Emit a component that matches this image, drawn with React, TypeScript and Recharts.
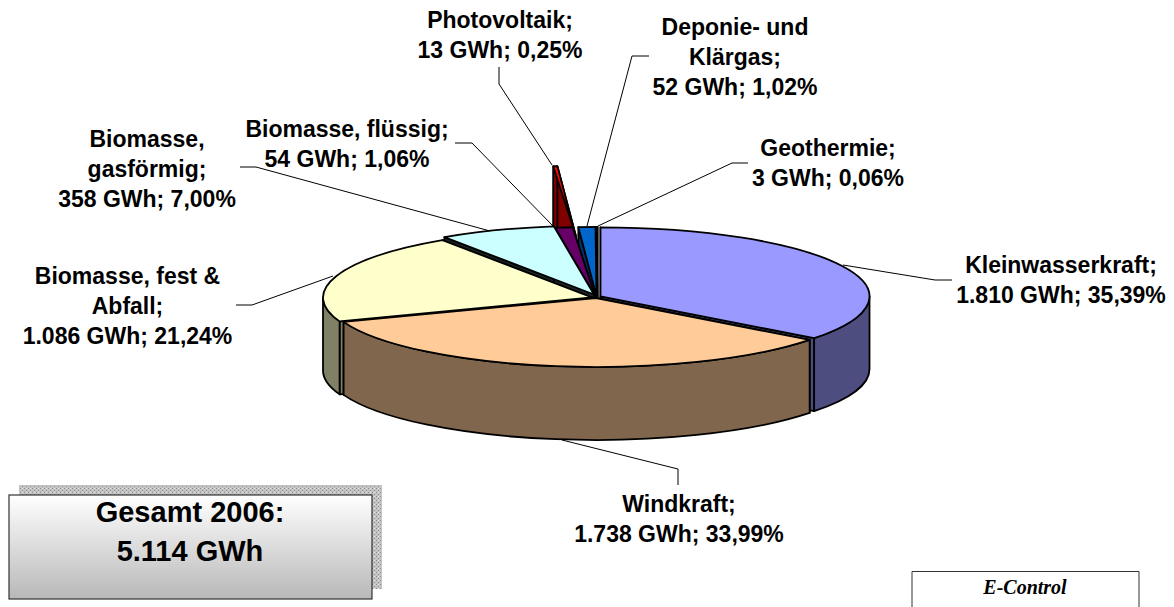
import React from 'react';
import { PieChart, Pie } from 'recharts';

const sources = [
  'Kleinwasserkraft',
  'Windkraft',
  'Biomasse, fest & Abfall',
  'Biomasse, gasförmig',
  'Biomasse, flüssig',
  'Photovoltaik',
  'Deponie- und Klärgas',
  'Geothermie',
];
const gwh = [1810, 1738, 1086, 358, 54, 13, 52, 3];
const labelLines = [
  ['Kleinwasserkraft;', '1.810 GWh; 35,39%'],
  ['Windkraft;', '1.738 GWh; 33,99%'],
  ['Biomasse, fest &', 'Abfall;', '1.086 GWh; 21,24%'],
  ['Biomasse,', 'gasförmig;', '358 GWh; 7,00%'],
  ['Biomasse, flüssig;', '54 GWh; 1,06%'],
  ['Photovoltaik;', '13 GWh; 0,25%'],
  ['Deponie- und', 'Klärgas;', '52 GWh; 1,02%'],
  ['Geothermie;', '3 GWh; 0,06%'],
];
const totalLines = ['Gesamt 2006:', '5.114 GWh'];
const sourceNote = 'E-Control';

const tableData = sources.map((name, i) => ({ name, gwh: gwh[i] }));

// styling per slice, same order as sources
const topColors = ['#9999FF', '#FFCC99', '#FFFFCC', '#CCFFFF', '#660066', '#FF0000', '#0066CC', '#CCCCFF'];
const sideColors = ['#4D4D80', '#7F664C', '#808066', '#1A2626', '#330033', '#800000', '#003366', '#666680'];
// how far each slice is pulled out of the pie, in px
const pullOut = [[3.5, -0.7], [-1, 1], [-5, 0.5], [-3, -2.5], [-2, -1], [-21.4, -62], [-0.5, -1], [0.5, -1]];

// painter's order, back to front
const drawOrder = [5, 7, 6, 4, 3, 0, 2, 1];

// callouts: leader line points, label centre x, first baseline
const callouts = [
  { line: [[952, 280], [935, 280], [843, 265]], x: 1061, y: 273 },
  { line: [[678, 485], [678, 469], [562, 440]], x: 679, y: 512 },
  { line: [[236, 305], [252, 305], [333, 276]], x: 127.5, y: 284 },
  { line: [[240, 167], [256, 167], [490, 231]], x: 147, y: 147 },
  { line: [[455, 143], [472, 143], [553, 226]], x: 347, y: 137 },
  { line: [[499, 67], [499, 84], [552, 165]], x: 500, y: 28 },
  { line: [[649, 56], [632, 56], [587, 226]], x: 735, y: 35 },
  { line: [[748, 163], [732, 163], [598, 226]], x: 828, y: 156 },
];

const WIDTH = 1174;
const HEIGHT = 607;
const TILT = 0.2565;
const DEPTH = 73;
const FONT = '"Liberation Sans", Arial, sans-serif';

const onEllipse = (cx: number, cy: number, rx: number, ry: number, deg: number) => {
  const rad = (deg * Math.PI) / 180;
  return [cx + rx * Math.cos(rad), cy - ry * Math.sin(rad)];
};

function sliceShape(index: number) {
  return (props: any) => {
    if (props.name !== sources[index]) return <g />;
    const { cx, cy, outerRadius: rx, startAngle, endAngle } = props;
    const ry = rx * TILT;
    const tx = cx + pullOut[index][0];
    const ty = cy + pullOut[index][1];
    const [x1, y1] = onEllipse(tx, ty, rx, ry, startAngle);
    const [x2, y2] = onEllipse(tx, ty, rx, ry, endAngle);
    const large = Math.abs(startAngle - endAngle) > 180 ? 1 : 0;
    const common = { stroke: '#000', strokeWidth: 1.8, strokeLinejoin: 'round' as const };

    // rim only shows on the front half of the ellipse (0 to -180 degrees)
    const rimFrom = Math.min(startAngle, 0);
    const rimTo = Math.max(endAngle, -180);
    let rim = null;
    if (rimFrom > rimTo) {
      const [ax, ay] = onEllipse(tx, ty, rx, ry, rimFrom);
      const [bx, by] = onEllipse(tx, ty, rx, ry, rimTo);
      rim = (
        <path
          d={`M${ax} ${ay}A${rx} ${ry} 0 0 1 ${bx} ${by}L${bx} ${by + DEPTH}A${rx} ${ry} 0 0 0 ${ax} ${ay + DEPTH}Z`}
          fill={sideColors[index]}
          {...common}
        />
      );
    }

    return (
      <g>
        <path d={`M${tx} ${ty}L${x1} ${y1}L${x1} ${y1 + DEPTH}L${tx} ${ty + DEPTH}Z`} fill={sideColors[index]} {...common} />
        <path d={`M${tx} ${ty}L${x2} ${y2}L${x2} ${y2 + DEPTH}L${tx} ${ty + DEPTH}Z`} fill={sideColors[index]} {...common} />
        {rim}
        <path d={`M${tx} ${ty}L${x1} ${y1}A${rx} ${ry} 0 ${large} 1 ${x2} ${y2}Z`} fill={topColors[index]} {...common} />
      </g>
    );
  };
}

function renderCallout(props: any) {
  const i = sources.indexOf(props.name);
  const c = callouts[i];
  return (
    <g>
      <polyline points={c.line.map((p) => p.join(',')).join(' ')} fill="none" stroke="#000" strokeWidth={1} />
      <text x={c.x} y={c.y} textAnchor="middle" fontFamily={FONT} fontWeight="bold" fontSize={23} fill="#000">
        {labelLines[i].map((t, n) => (
          <tspan key={t} x={c.x} dy={n === 0 ? 0 : 29.8}>
            {t}
          </tspan>
        ))}
      </text>
    </g>
  );
}

const pieProps = {
  data: tableData,
  dataKey: 'gwh',
  nameKey: 'name',
  cx: 597,
  cy: 297,
  innerRadius: 0,
  outerRadius: 269,
  startAngle: 90,
  endAngle: -270,
  stroke: 'none',
  isAnimationActive: false,
  legendType: 'none' as const,
};

export default function App() {
  return (
    <div style={{ position: 'absolute', left: 0, top: 0, width: WIDTH, height: HEIGHT, background: '#fff', overflow: 'hidden' }}>
      <PieChart width={WIDTH} height={HEIGHT} margin={{ top: 0, right: 0, bottom: 0, left: 0 }}>
        <defs>
          <linearGradient id="totalFill" x1="0" y1="0" x2="0" y2="1">
            <stop offset="0" stopColor="#FFFFFF" />
            <stop offset="1" stopColor="#B8B8B8" />
          </linearGradient>
          <pattern id="shadowDots" width="4" height="4" patternUnits="userSpaceOnUse">
            <rect width="4" height="4" fill="#C4C4C4" />
            <rect width="1" height="1" fill="#8C8C8C" />
            <rect x="2" y="2" width="1" height="1" fill="#8C8C8C" />
            <rect x="2" y="0" width="1" height="1" fill="#E6E6E6" />
          </pattern>
        </defs>
        {drawOrder.map((idx) => (
          <Pie key={sources[idx]} {...pieProps} shape={sliceShape(idx)} label={false} labelLine={false} />
        ))}
        <Pie {...pieProps} shape={() => <g />} label={renderCallout} labelLine={false} />

        <rect x={19} y={485} width={363} height={104} fill="url(#shadowDots)" />
        <rect x={9} y={495} width={363} height={104} fill="url(#totalFill)" stroke="#333" strokeWidth={1.2} />
        <text textAnchor="middle" fontFamily={FONT} fontWeight="bold" fontSize={29} fill="#000">
          <tspan x={190} y={522}>{totalLines[0]}</tspan>
          <tspan x={190} y={561}>{totalLines[1]}</tspan>
        </text>

        <path d={`M912 ${HEIGHT}V571.5H1139V${HEIGHT}`} fill="#fff" stroke="#333" strokeWidth={1} />
        <text x={1025} y={594} textAnchor="middle" fontFamily='"Liberation Serif", serif' fontStyle="italic" fontWeight="bold" fontSize={20} fill="#000">
          {sourceNote}
        </text>
      </PieChart>
    </div>
  );
}
